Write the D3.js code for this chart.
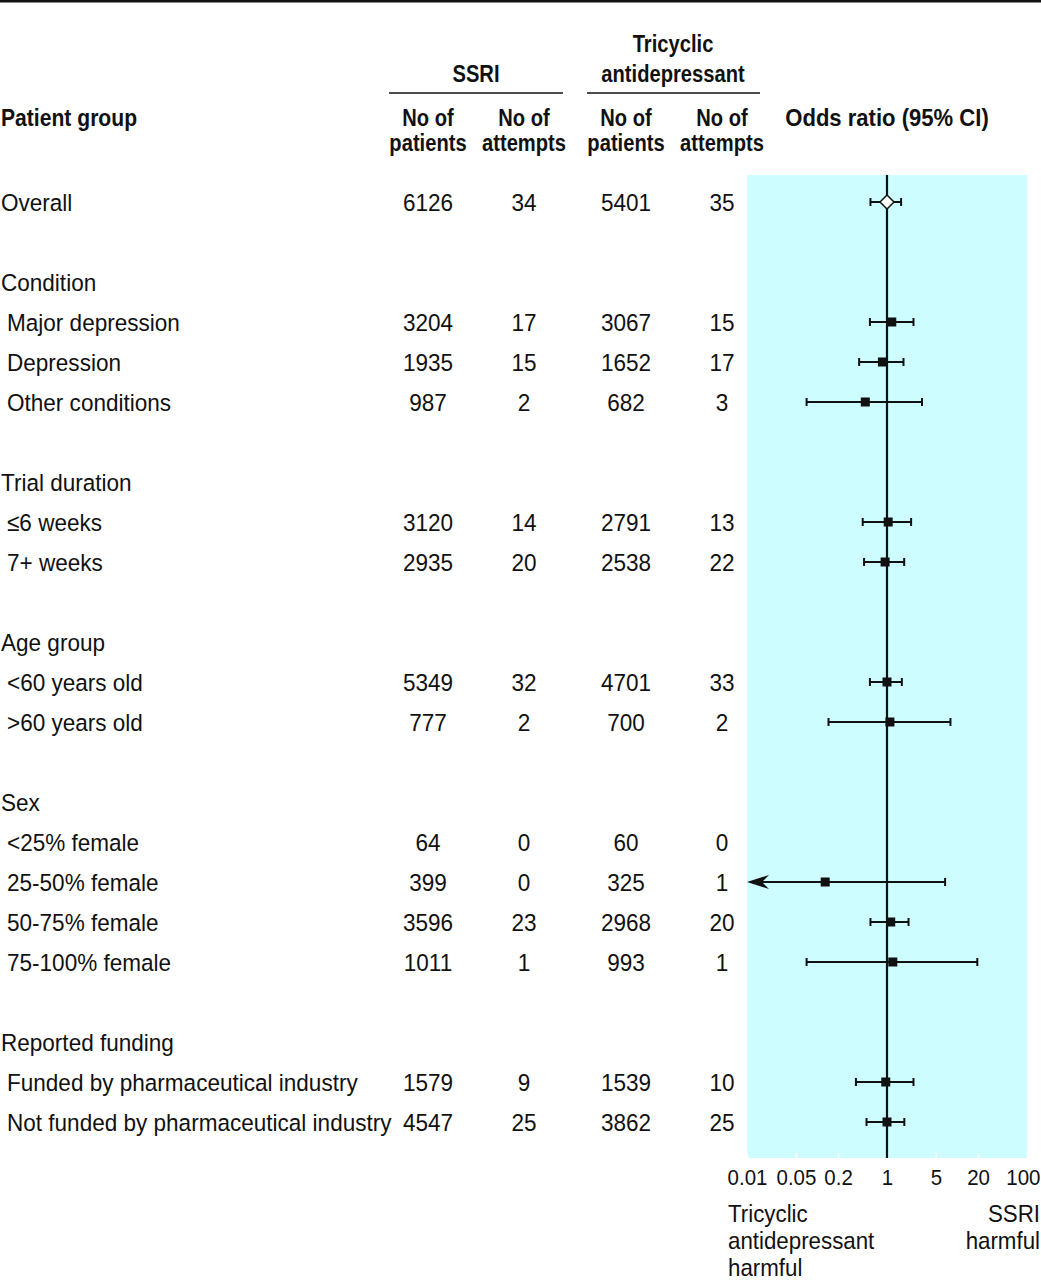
<!DOCTYPE html>
<html>
<head>
<meta charset="utf-8">
<script src="https://cdn.jsdelivr.net/npm/d3@7"></script>
<style>
  body { margin: 0; background: #fff; }
  svg text { font-family: "Liberation Sans", Arial, sans-serif; fill: #111; }
</style>
</head>
<body>
<div class="chart"></div>
<script>
// rows of the table, top to bottom ("" = spacer row)
var rowLabels = ["Overall", "", "Condition", "Major depression", "Depression", "Other conditions",
    "", "Trial duration", "≤6 weeks", "7+ weeks",
    "", "Age group", "<60 years old", ">60 years old",
    "", "Sex", "<25% female", "25-50% female", "50-75% female", "75-100% female",
    "", "Reported funding", "Funded by pharmaceutical industry", "Not funded by pharmaceutical industry"];
var rowKind = ["total", "blank", "head", "item", "item", "item",
    "blank", "head", "item", "item",
    "blank", "head", "item", "item",
    "blank", "head", "item", "item", "item", "item",
    "blank", "head", "item", "item"];

var ssriPatients = [6126, null, null, 3204, 1935, 987, null, null, 3120, 2935, null, null, 5349, 777,
    null, null, 64, 399, 3596, 1011, null, null, 1579, 4547];
var ssriAttempts = [34, null, null, 17, 15, 2, null, null, 14, 20, null, null, 32, 2,
    null, null, 0, 0, 23, 1, null, null, 9, 25];
var tcaPatients = [5401, null, null, 3067, 1652, 682, null, null, 2791, 2538, null, null, 4701, 700,
    null, null, 60, 325, 2968, 993, null, null, 1539, 3862];
var tcaAttempts = [35, null, null, 15, 17, 3, null, null, 13, 22, null, null, 33, 2,
    null, null, 0, 1, 20, 1, null, null, 10, 25];

// odds ratios and 95% CI
var oddsRatio = [1.00, null, null, 1.17, 0.86, 0.49, null, null, 1.04, 0.94, null, null, 1.00, 1.10,
    null, null, null, 0.131, 1.13, 1.21, null, null, 0.96, 1.00];
var ciLow = [0.58, null, null, 0.57, 0.40, 0.071, null, null, 0.45, 0.47, null, null, 0.57, 0.146,
    null, null, null, 0.005, 0.58, 0.071, null, null, 0.36, 0.51];
var ciHigh = [1.59, null, null, 2.39, 1.72, 3.16, null, null, 2.21, 1.76, null, null, 1.63, 8.06,
    null, null, null, 6.76, 2.03, 19.5, null, null, 2.39, 1.77];

var tickValues = [0.01, 0.05, 0.2, 1, 5, 20, 100];
var tickLabels = ["0.01", "0.05", "0.2", "1", "5", "20", "100"];

var svgWidth = 1041;
var svgHeight = 1280;

var svg = d3.select(".chart")
    .append("svg")
    .attr("width", svgWidth)
    .attr("height", svgHeight);

// condensed look: scale text horizontally
function label(x, y, str, opt) {
    opt = opt || {};
    return svg.append("text")
        .attr("transform", `translate(${x},${y}) scale(${opt.sx || 0.92},1)`)
        .attr("text-anchor", opt.anchor || "start")
        .style("font-size", (opt.size || 24.5) + "px")
        .style("font-weight", opt.bold ? "bold" : "normal")
        .text(str);
}

var xScale = d3.scaleLog()
    .domain([0.01, 100])
    .range([747, 1027]);

var yScale = d3.scalePoint()
    .domain(d3.range(rowLabels.length))
    .range([202, 1122]);

var panelTop = 175;
var panelBottom = 1158;

// top rule
svg.append("line")
    .attr("x1", 0).attr("x2", svgWidth)
    .attr("y1", 1.2).attr("y2", 1.2)
    .attr("stroke", "#111")
    .attr("stroke-width", 2.5);

// column headers
label(476, 82, "SSRI", { anchor: "middle", bold: true, sx: 0.84, size: 24 });
label(673, 52, "Tricyclic", { anchor: "middle", bold: true, sx: 0.84, size: 24 });
label(673, 82, "antidepressant", { anchor: "middle", bold: true, sx: 0.84, size: 24 });

svg.append("line").attr("x1", 389).attr("x2", 563).attr("y1", 93).attr("y2", 93)
    .attr("stroke", "#111").attr("stroke-width", 1.6);
svg.append("line").attr("x1", 587).attr("x2", 760).attr("y1", 93).attr("y2", 93)
    .attr("stroke", "#111").attr("stroke-width", 1.6);

var colX = [428, 524, 626, 722];
var sub = ["patients", "attempts", "patients", "attempts"];
colX.forEach(function (cx, i) {
    label(cx, 126, "No of", { anchor: "middle", bold: true, sx: 0.84, size: 24 });
    label(cx, 151, sub[i], { anchor: "middle", bold: true, sx: 0.84, size: 24 });
});
label(1, 126, "Patient group", { bold: true, sx: 0.88, size: 24 });
label(xScale(1), 126, "Odds ratio (95% CI)", { anchor: "middle", bold: true, sx: 0.92, size: 24 });

// table body
rowLabels.forEach(function (name, i) {
    if (rowKind[i] === "blank") return;
    var y = yScale(i) + 8.8;
    label(rowKind[i] === "item" ? 7 : 1, y, name);
    var cols = [ssriPatients[i], ssriAttempts[i], tcaPatients[i], tcaAttempts[i]];
    cols.forEach(function (v, j) {
        if (v !== null) label(colX[j], y, v, { anchor: "middle" });
    });
});

// shaded plot panel
svg.append("rect")
    .attr("x", xScale.range()[0])
    .attr("y", panelTop)
    .attr("width", xScale.range()[1] - xScale.range()[0])
    .attr("height", panelBottom - panelTop)
    .attr("fill", "#cdfdfe");

// axis: white inner ticks, labels below
var axis = svg.append("g")
    .attr("transform", `translate(0, ${panelBottom})`)
    .call(d3.axisBottom(xScale)
        .tickValues(tickValues)
        .tickFormat(function (d, i) { return tickLabels[i]; })
        .tickSizeInner(-5)
        .tickSizeOuter(0)
        .tickPadding(11));
axis.select(".domain").remove();
axis.selectAll(".tick line").attr("stroke", "#fff").attr("stroke-width", 1.5);
axis.selectAll(".tick text")
    .attr("transform", "scale(0.93,1)")
    .style("font-size", "22px")
    .style("font-family", "'Liberation Sans', Arial, sans-serif")
    .attr("fill", "#111");
// last label sits flush with the right edge
axis.selectAll(".tick text")
    .filter(function (d) { return d === 100; })
    .attr("text-anchor", "end")
    .attr("x", (svgWidth - 1 - xScale(100)) / 0.93);

// line of no effect
svg.append("line")
    .attr("x1", xScale(1)).attr("x2", xScale(1))
    .attr("y1", panelTop).attr("y2", panelBottom)
    .attr("stroke", "#111")
    .attr("stroke-width", 2.2);

// confidence intervals
var xMin = xScale.domain()[0];
var ciRows = d3.range(rowLabels.length).filter(function (i) { return oddsRatio[i] !== null; });

var ciGroup = svg.append("g")
    .attr("stroke", "#111")
    .attr("stroke-width", 2);

ciRows.forEach(function (i) {
    var y = yScale(i);
    var clipped = ciLow[i] < xMin;
    var xl = xScale(Math.max(ciLow[i], xMin));
    var xh = xScale(ciHigh[i]);
    ciGroup.append("line")
        .attr("x1", clipped ? xl + 10 : xl).attr("x2", xh)
        .attr("y1", y).attr("y2", y);
    if (!clipped) {
        ciGroup.append("line").attr("x1", xl).attr("x2", xl).attr("y1", y - 4).attr("y2", y + 4);
    } else {
        svg.append("path")
            .attr("d", `M${xl},${y} L${xl + 22},${y - 7} L${xl + 15},${y} L${xl + 22},${y + 7} Z`)
            .attr("fill", "#111");
    }
    ciGroup.append("line").attr("x1", xh).attr("x2", xh).attr("y1", y - 4).attr("y2", y + 4);
});

// point estimates
ciRows.forEach(function (i) {
    var cx = xScale(oddsRatio[i]);
    var cy = yScale(i);
    if (rowKind[i] === "total") {
        svg.append("path")
            .attr("d", `M${cx - 7},${cy} L${cx},${cy - 7} L${cx + 7},${cy} L${cx},${cy + 7} Z`)
            .attr("fill", "#fff")
            .attr("stroke", "#111")
            .attr("stroke-width", 1.5);
    } else {
        svg.append("rect")
            .attr("x", cx - 4.5).attr("y", cy - 4.5)
            .attr("width", 9).attr("height", 9)
            .attr("fill", "#111");
    }
});

// direction labels
label(728, 1222, "Tricyclic", { size: 24, sx: 0.93 });
label(728, 1249, "antidepressant", { size: 24, sx: 0.93 });
label(728, 1276, "harmful", { size: 24, sx: 0.93 });
label(1040, 1222, "SSRI", { anchor: "end", size: 24, sx: 0.93 });
label(1040, 1249, "harmful", { anchor: "end", size: 24, sx: 0.93 });
</script>
</body>
</html>
